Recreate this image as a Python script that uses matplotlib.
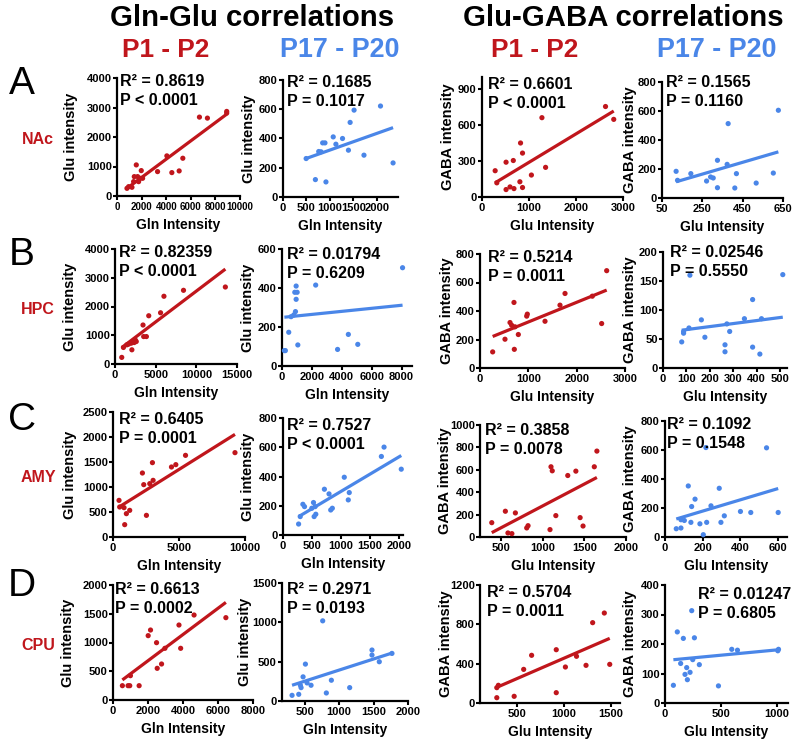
import numpy as np
import matplotlib
matplotlib.use('Agg')
import matplotlib.pyplot as plt
from matplotlib.transforms import ScaledTranslation, blended_transform_factory

W, H = 793, 741
RED = '#c0161c'
BLUE = '#4a86e8'

plt.rcParams['font.family'] = ['Liberation Sans', 'DejaVu Sans']
plt.rcParams['font.weight'] = 'bold'

# ---------------- data ----------------
# Row A: NAc
gg_nac_p1_x = [811, 946, 1216, 1351, 1405, 1568, 1676, 1757, 1892, 1973, 2081, 3297, 4054, 4459, 5054, 5351, 6703, 7351, 8919, 8919]
gg_nac_p1_y = [260, 317, 295, 487, 657, 1054, 657, 487, 600, 861, 600, 827, 1360, 793, 850, 1280, 2674, 2640, 2867, 2810]
gg_nac_p17_x = [493, 690, 761, 810, 845, 894, 915, 1070, 1127, 1268, 1394, 1430, 1514, 1725, 2077, 2345]
gg_nac_p17_y = [263, 119, 311, 309, 370, 370, 103, 411, 361, 400, 320, 510, 594, 286, 622, 233]
ga_nac_p1_x = [280, 315, 512, 512, 596, 666, 680, 806, 820, 862, 862, 1051, 1275, 1353, 2628, 2803]
ga_nac_p1_y = [219, 118, 290, 62, 84, 304, 70, 127, 450, 366, 79, 183, 661, 247, 754, 647]
ga_nac_p17_x = [120, 127, 193, 271, 291, 304, 325, 325, 373, 378, 419, 411, 517, 602, 627]
ga_nac_p17_y = [184, 122, 168, 117, 145, 138, 260, 71, 232, 513, 168, 69, 103, 172, 605]
# Row B: HPC
gg_hpc_p1_x = [830, 1037, 1452, 1660, 1992, 2075, 2200, 2365, 2490, 2614, 3444, 3527, 3859, 4149, 5602, 6017, 8423, 13568]
gg_hpc_p1_y = [230, 575, 667, 690, 724, 494, 759, 747, 839, 782, 1356, 954, 954, 1678, 1782, 2356, 2563, 2678]
gg_hpc_p17_x = [158, 225, 451, 608, 789, 901, 856, 1014, 946, 946, 1059, 2254, 3719, 4440, 5071, 8068]
gg_hpc_p17_y = [79, 79, 173, 253, 262, 279, 378, 378, 410, 342, 108, 415, 85, 162, 111, 504]
ga_hpc_p1_x = [262, 517, 703, 621, 655, 724, 710, 793, 966, 979, 1345, 1655, 1759, 2324, 2517, 2621]
ga_hpc_p1_y = [113, 202, 460, 319, 300, 289, 131, 235, 364, 378, 328, 441, 523, 504, 312, 683]
ga_hpc_p17_x = [80, 88, 88, 111, 115, 164, 179, 265, 265, 273, 285, 348, 383, 383, 414, 421, 512]
ga_hpc_p17_y = [45, 60, 63, 69, 160, 83, 53, 40, 28, 76, 63, 85, 118, 36, 24, 85, 161]
# Row C: AMY
gg_amy_p1_x = [456, 506, 835, 886, 1013, 1266, 2228, 2329, 2532, 2785, 2987, 3038, 4430, 4759, 5494, 9241]
gg_amy_p1_y = [733, 600, 587, 247, 467, 533, 1280, 1047, 433, 1067, 1487, 1133, 1400, 1447, 1633, 1687]
gg_amy_p17_x = [269, 297, 343, 371, 497, 526, 537, 554, 566, 714, 794, 823, 851, 1057, 1126, 1143, 1697, 1743, 2040]
gg_amy_p17_y = [75, 126, 210, 194, 183, 222, 126, 194, 142, 313, 281, 171, 183, 395, 240, 290, 537, 601, 450]
ga_amy_p1_x = [391, 554, 585, 632, 674, 810, 826, 1089, 1101, 1116, 1159, 1302, 1399, 1450, 1485, 1620, 1651]
ga_amy_p1_y = [128, 230, 36, 30, 215, 81, 101, 66, 627, 591, 191, 549, 588, 173, 98, 627, 767]
ga_amy_p17_x = [60, 85, 103, 85, 124, 142, 138, 160, 186, 204, 222, 245, 289, 298, 316, 402, 457, 603, 218, 541]
ga_amy_p17_y = [57, 119, 114, 62, 352, 210, 101, 261, 91, 16, 101, 215, 336, 101, 146, 176, 169, 169, 617, 615]
# Row D: CPU
gg_cpu_p1_x = [536, 861, 957, 995, 1493, 2010, 2144, 2488, 2526, 2775, 2967, 3770, 3866, 4632, 6450]
gg_cpu_p1_y = [249, 249, 249, 423, 249, 1119, 1217, 997, 551, 626, 899, 1304, 899, 1478, 1432]
gg_cpu_p17_x = [316, 413, 437, 447, 476, 510, 534, 592, 761, 814, 887, 1153, 1477, 1477, 1583, 1767]
gg_cpu_p17_y = [72, 85, 200, 170, 307, 469, 230, 200, 1019, 102, 264, 170, 648, 584, 499, 605]
ga_cpu_p1_x = [280, 280, 297, 466, 568, 653, 917, 917, 1015, 1134, 1236, 1307, 1432, 1490]
ga_cpu_p1_y = [54, 156, 180, 68, 342, 485, 542, 105, 366, 475, 383, 817, 915, 393]
ga_cpu_p17_x = [75, 110, 140, 164, 179, 194, 200, 224, 239, 248, 263, 307, 478, 597, 648, 1015, 1009]
ga_cpu_p17_y = [60, 241, 134, 219, 97, 120, 79, 104, 313, 147, 221, 130, 58, 182, 179, 182, 177]

# linear fits (slope, intercept)
fits = [
    [(0.310, 9), (0.114, 207), (0.237, 52), (0.407, 63)],
    [(0.2144, 392), (0.0078, 249), (0.138, 185), (0.052, 61)],
    [(0.1654, 524), (0.236, 62), (0.391, -114), (0.387, 101)],
    [(0.228, 227), (0.282, 111), (0.4116, 44), (0.036, 144)],
]
r2_labels = [
    ['0.8619', '0.1685', '0.6601', '0.1565'],
    ['0.82359', '0.01794', '0.5214', '0.02546'],
    ['0.6405', '0.7527', '0.3858', '0.1092'],
    ['0.6613', '0.2971', '0.5704', '0.01247'],
]
p_labels = [
    ['< 0.0001', '= 0.1017', '< 0.0001', '= 0.1160'],
    ['< 0.0001', '= 0.6209', '= 0.0011', '= 0.5550'],
    ['= 0.0001', '< 0.0001', '= 0.0078', '= 0.1548'],
    ['= 0.0002', '= 0.0193', '= 0.0011', '= 0.6805'],
]
regions = ['NAc', 'HPC', 'AMY', 'CPU']
row_letters = ['A', 'B', 'C', 'D']
group_titles = ['Gln-Glu correlations', 'Glu-GABA correlations']
age_labels = ['P1 - P2', 'P17 - P20', 'P1 - P2', 'P17 - P20']
x_labels = ['Gln Intensity', 'Gln Intensity', 'Glu Intensity', 'Glu Intensity']
y_labels = ['Glu intensity', 'Glu intensity', 'GABA intensity', 'GABA intensity']

data = [
    [(gg_nac_p1_x, gg_nac_p1_y), (gg_nac_p17_x, gg_nac_p17_y), (ga_nac_p1_x, ga_nac_p1_y), (ga_nac_p17_x, ga_nac_p17_y)],
    [(gg_hpc_p1_x, gg_hpc_p1_y), (gg_hpc_p17_x, gg_hpc_p17_y), (ga_hpc_p1_x, ga_hpc_p1_y), (ga_hpc_p17_x, ga_hpc_p17_y)],
    [(gg_amy_p1_x, gg_amy_p1_y), (gg_amy_p17_x, gg_amy_p17_y), (ga_amy_p1_x, ga_amy_p1_y), (ga_amy_p17_x, ga_amy_p17_y)],
    [(gg_cpu_p1_x, gg_cpu_p1_y), (gg_cpu_p17_x, gg_cpu_p17_y), (ga_cpu_p1_x, ga_cpu_p1_y), (ga_cpu_p17_x, ga_cpu_p17_y)],
]

# axis ranges and ticks
xlims = [
    [(0, 10000), (0, 2450), (0, 3000), (50, 650)],
    [(0, 15000), (0, 8700), (0, 3000), (0, 530)],
    [(0, 10000), (0, 2070), (250, 2000), (0, 650)],
    [(0, 8000), (170, 2000), (100, 1600), (0, 1100)],
]
xticks = [
    [np.arange(0, 10001, 2000), np.arange(0, 2001, 500), np.arange(0, 3001, 1000), [50, 250, 450, 650]],
    [np.arange(0, 15001, 5000), np.arange(0, 8001, 2000), np.arange(0, 3001, 1000), np.arange(0, 501, 100)],
    [[0, 5000, 10000], np.arange(0, 2001, 500), [500, 1000, 1500, 2000], [0, 200, 400, 600]],
    [np.arange(0, 8001, 2000), [500, 1000, 1500, 2000], [500, 1000, 1500], [0, 500, 1000]],
]
ylims = [
    [(0, 4000), (0, 800), (0, 1000), (0, 800)],
    [(0, 4000), (0, 600), (0, 800), (0, 200)],
    [(0, 2500), (0, 800), (0, 1000), (0, 800)],
    [(0, 2000), (0, 1500), (0, 1200), (0, 400)],
]
yticks = [
    [np.arange(0, 4001, 1000), np.arange(0, 801, 200), [0, 300, 600, 900], np.arange(0, 801, 200)],
    [np.arange(0, 4001, 1000), np.arange(0, 601, 200), np.arange(0, 801, 200), np.arange(0, 201, 50)],
    [np.arange(0, 2501, 500), np.arange(0, 801, 200), np.arange(0, 1001, 200), np.arange(0, 801, 200)],
    [np.arange(0, 2001, 500), np.arange(0, 1501, 500), np.arange(0, 1201, 400), np.arange(0, 401, 100)],
]

# ---------------- layout (pixel boxes: left, right, top, bottom) ----------------
boxes = [
    [(117, 240, 78, 196), (283, 398, 80, 197), (482, 623, 77, 197), (662, 783, 82, 198)],
    [(115, 237, 249, 364), (282, 412, 249, 366), (480, 625, 254, 368), (663, 787, 252, 368)],
    [(113, 245, 412, 537), (283, 403, 418, 535), (480, 626, 425, 537), (665, 787, 421, 537)],
    [(113, 253, 585, 700), (282, 408, 583, 701), (480, 620, 585, 703), (665, 788, 585, 703)],
]
text_off = [
    [(3, 4), (4, 5), (6, 0), (4, 7)],
    [(4, 4), (5, 2), (8, 4), (7, 7)],
    [(6, 0), (4, 0), (5, 2), (2, 4)],
    [(2, 3), (5, 1), (7, 0), (33, -2)],
]
ylabel_x = [[71, 249, 448, 630], [70, 248, 447, 630], [70, 248, 445, 630], [68, 245, 446, 630]]
xtick_size = [[7, 8, 8, 8], [8, 8, 8, 8], [8, 8, 8, 8], [8, 8, 8, 8]]
colors = [RED, BLUE, RED, BLUE]

fig = plt.figure(figsize=(W / 100, H / 100), dpi=100)
fig.patch.set_facecolor('white')

for r in range(4):
    for c in range(4):
        l, rr, t, b = boxes[r][c]
        ax = fig.add_axes([l / W, 1 - b / H, (rr - l) / W, (b - t) / H])
        xs, ys = data[r][c]
        col = colors[c]
        slope, icpt = fits[r][c]
        lx = np.array([min(xs), max(xs)])
        ax.plot(lx, slope * lx + icpt, color=col, lw=2.3, solid_capstyle='butt', zorder=2)
        ax.scatter(xs, ys, s=14, color=col, edgecolors='none', zorder=3, clip_on=False)
        ax.set_xlim(*xlims[r][c])
        ax.set_ylim(*ylims[r][c])
        ax.set_xticks(xticks[r][c])
        ax.set_yticks(yticks[r][c])
        for s in ['top', 'right']:
            ax.spines[s].set_visible(False)
        for s in ['left', 'bottom']:
            ax.spines[s].set_linewidth(1.6)
        ax.tick_params(width=1.5, length=3, labelsize=8)
        ax.tick_params(axis='y', pad=0.8)
        ax.tick_params(axis='x', pad=1.5, labelsize=xtick_size[r][c])
        ax.set_xlabel(x_labels[c], fontsize=10, fontweight='bold', va='center')
        ax.xaxis.set_label_coords(0.5, 0, transform=ax.transAxes + ScaledTranslation(0, -0.29, fig.dpi_scale_trans))
        ax.set_ylabel(y_labels[c], fontsize=10.5, fontweight='bold', va='center')
        ax.yaxis.set_label_coords(ylabel_x[r][c] / W, 0.5,
                                  transform=blended_transform_factory(fig.transFigure, ax.transAxes))
        dx, dy = text_off[r][c]
        ax.annotate('R\u00b2 = ' + r2_labels[r][c], xy=(0, 1), xycoords='axes fraction',
                    xytext=(dx * 0.72, dy * 0.72), textcoords='offset points',
                    ha='left', va='top', fontsize=11.5, fontweight='bold', annotation_clip=False)
        ax.annotate('P ' + p_labels[r][c], xy=(0, 1), xycoords='axes fraction',
                    xytext=(dx * 0.72, (dy - 19) * 0.72), textcoords='offset points',
                    ha='left', va='top', fontsize=11.5, fontweight='bold', annotation_clip=False)

renderer = fig.canvas.get_renderer()


def fitted_text(x_px, y_px, s, width_px, **kw):
    t = fig.text(x_px / W, 1 - y_px / H, s, ha='center', va='center', **kw)
    w = t.get_window_extent(renderer=renderer).width
    t.set_fontsize(t.get_fontsize() * width_px / w)
    return t


narrow = ['Liberation Sans Narrow', 'Liberation Sans', 'DejaVu Sans']
fitted_text(252, 18, group_titles[0], 285, family=narrow, fontweight='bold', fontsize=24)
fitted_text(623, 18, group_titles[1], 322, family=narrow, fontweight='bold', fontsize=24)
age_x = [166, 340, 535, 717]
age_w = [88, 120, 88, 120]
for i in range(4):
    fitted_text(age_x[i], 50, age_labels[i], age_w[i], family=narrow, fontweight='bold',
                fontsize=20, color=colors[i])

letter_y = [84, 255, 420, 586]
region_y = [140, 310, 478, 645]
for i in range(4):
    fig.text(22 / W, 1 - letter_y[i] / H, row_letters[i], ha='center', va='center',
             fontsize=28, fontweight='normal', family=narrow)
    fig.text(38 / W, 1 - region_y[i] / H, regions[i], ha='center', va='center',
             fontsize=11.5, fontweight='bold', color=RED)

fig.savefig('out.png', dpi=100)
